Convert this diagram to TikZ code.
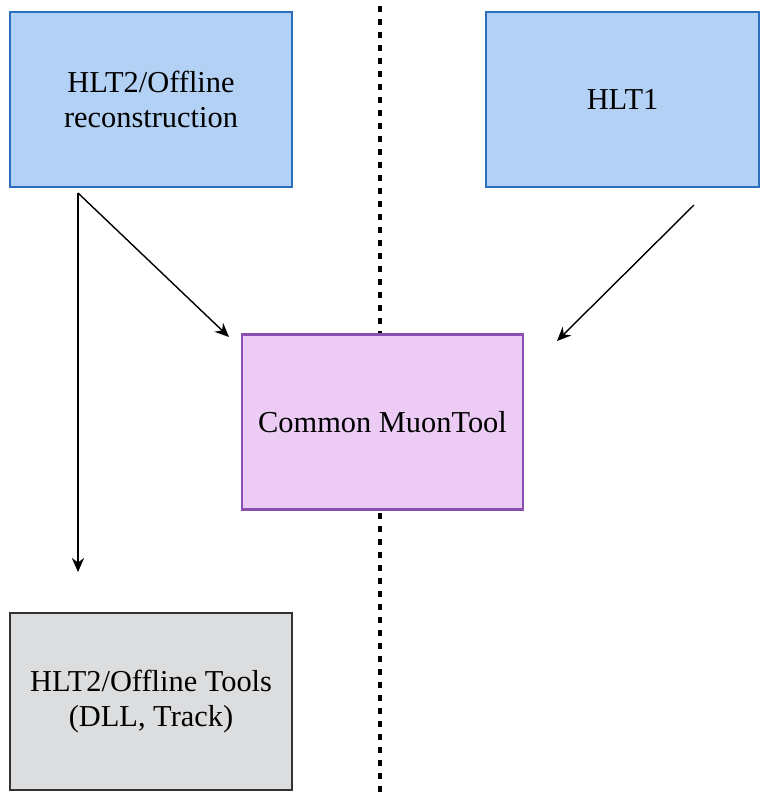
\documentclass[tikz,border=0pt]{standalone}
\usepackage{fontspec}
\setmainfont{Liberation Serif}
\usetikzlibrary{arrows.meta}

\definecolor{hltblue}{HTML}{B3D1F5}
\definecolor{hltedge}{HTML}{2A6FC0}
\definecolor{muonfill}{HTML}{ECCCF5}
\definecolor{muonedge}{HTML}{8A4FB0}
\definecolor{toolfill}{HTML}{DCDDDF}

\tikzset{
    blockbox/.style={draw, line width=1.2pt, rectangle, align=center,
        minimum height=3.5cm, font=\fontsize{17.3}{20}\selectfont},
    link/.style={line width=0.8pt, -{Stealth[length=8pt,width=7pt]}}
}

\begin{document}
\begin{tikzpicture}[x=0.02cm, y=-0.02cm]
    \useasboundingbox (0,0) rectangle (760,796);
    % separation line
    \draw[line width=2pt, dash pattern=on 3.2pt off 4.2pt] (380,6) -- (380,796);
    \node[blockbox, fill=hltblue, draw=hltedge, minimum width=5.64cm] (reco) at (151,99.5) {HLT2/Offline\\reconstruction};
    \node[blockbox, fill=hltblue, draw=hltedge, minimum width=5.46cm] (hltone) at (622.5,99.5) {HLT1};
    \node[blockbox, fill=muonfill, draw=muonedge, minimum width=5.62cm] (muon) at (382.5,422) {Common MuonTool};
    \node[blockbox, fill=toolfill, draw=black!80, minimum width=5.64cm, minimum height=3.54cm] (tools) at (151,701.5) {HLT2/Offline Tools\\(DLL, Track)};
    % arrows
    \coordinate (recostart) at (78,193);
    \coordinate (hltstart) at (694,205);
    \draw[link] (recostart) -- (78,572);
    \draw[link] (recostart) -- (229,337);
    \draw[link] (hltstart) -- (557,341);
\end{tikzpicture}
\end{document}
